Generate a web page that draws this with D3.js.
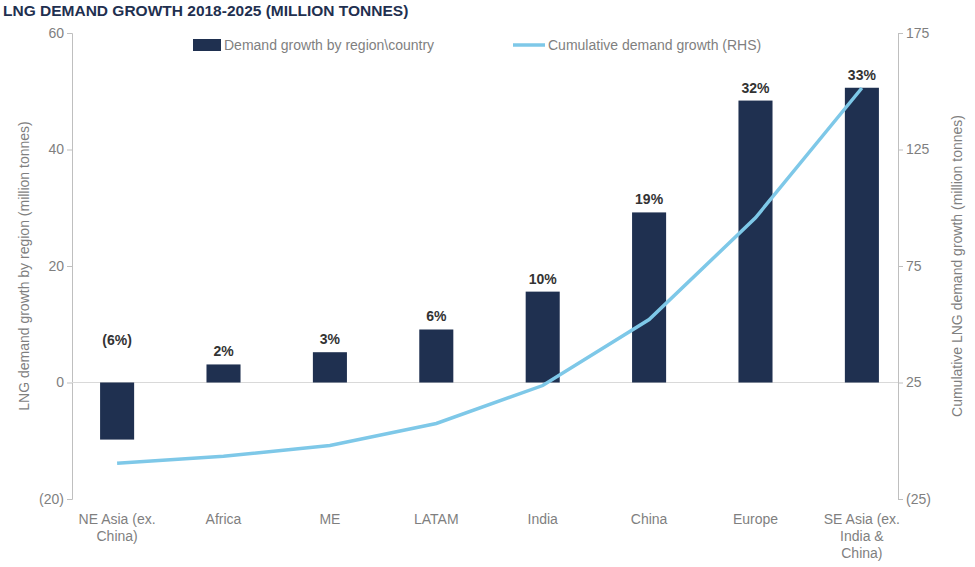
<!DOCTYPE html>
<html><head><meta charset="utf-8">
<script src="https://cdn.jsdelivr.net/npm/d3@7"></script>
<style>body{margin:0;background:#fff;font-family:Arial,"Liberation Sans",sans-serif}</style>
</head><body><svg id="c" width="975" height="567"></svg>
<script>
const categories=["NE Asia (ex.\nChina)","Africa","ME","LATAM","India","China","Europe","SE Asia (ex.\nIndia &\nChina)"];
const growth=[-9.8,3.1,5.2,9.1,15.6,29.2,48.4,50.6];
const cumulative=[-9.7,-6.7,-2,7.4,23.7,52,95.7,151.4];
const shares=["(6%)","2%","3%","6%","10%","19%","32%","33%"];
const leftTicks=[60,40,20,0,-20];
const rightTicks=[175,125,75,25,-25];
const svg=d3.select("#c");
const L=72,R=898,T=33,B=499;
const x=d3.scaleBand().domain(categories).range([82,897]).paddingInner(0.68).paddingOuter(0.17);
const y=d3.scaleLinear().domain([-20,60]).range([B,T]);
const y2=d3.scaleLinear().domain([-25,175]).range([B,T]);
const fmt=v=>v<0?`(${-v})`:`${v}`;
const grey="#7f7f7f";
svg.append("text").attr("x",3).attr("y",16).attr("font-size",15.5).attr("font-weight","bold").attr("fill","#1f3050").text("LNG DEMAND GROWTH 2018-2025 (MILLION TONNES)");
const ga=svg.append("g").attr("transform",`translate(${L},0)`).call(d3.axisLeft(y).tickValues(leftTicks).tickFormat(fmt).tickSize(5));
const gb=svg.append("g").attr("transform",`translate(${R},0)`).call(d3.axisRight(y2).tickValues(rightTicks).tickFormat(fmt).tickSize(5));
[ga,gb].forEach(g=>{g.selectAll("path,line").attr("stroke","#bfbfbf");g.selectAll("text").attr("fill",grey).attr("font-size",14);});
svg.append("line").attr("x1",L).attr("x2",R).attr("y1",y(0)).attr("y2",y(0)).attr("stroke","#d9d9d9");
svg.selectAll(".bar").data(growth).join("rect").attr("fill","#1f3050")
 .attr("x",(d,i)=>x(categories[i])).attr("width",x.bandwidth())
 .attr("y",d=>y(Math.max(0,d))).attr("height",d=>Math.abs(y(d)-y(0)));
svg.selectAll(".lab").data(shares).join("text").attr("text-anchor","middle").attr("font-size",14).attr("font-weight","bold").attr("fill","#333")
 .attr("x",(d,i)=>x(categories[i])+x.bandwidth()/2)
 .attr("y",(d,i)=>growth[i]<0?y(0)-38:y(growth[i])-8).text(d=>d);
svg.append("path").datum(cumulative).attr("fill","none").attr("stroke","#7ec8e8").attr("stroke-width",3.5)
 .attr("d",d3.line().x((d,i)=>x(categories[i])+x.bandwidth()/2).y(d=>y2(d)));
categories.forEach((c,i)=>{
 const t=svg.append("text").attr("text-anchor","middle").attr("font-size",14).attr("fill",grey);
 c.split("\n").forEach((s,j)=>t.append("tspan").attr("x",x(c)+x.bandwidth()/2).attr("y",524+j*17).text(s));
});
svg.append("text").attr("transform",`translate(29,266) rotate(-90)`).attr("text-anchor","middle").attr("font-size",14).attr("fill",grey).text("LNG demand growth by region (million tonnes)");
svg.append("text").attr("transform",`translate(962,266) rotate(-90)`).attr("text-anchor","middle").attr("font-size",14).attr("fill",grey).text("Cumulative LNG demand growth (million tonnes)");
svg.append("rect").attr("x",193).attr("y",39).attr("width",28).attr("height",12).attr("fill","#1f3050");
svg.append("text").attr("x",224).attr("y",50).attr("font-size",14).attr("fill",grey).text("Demand growth by region\\country");
svg.append("line").attr("x1",513).attr("x2",545).attr("y1",45).attr("y2",45).attr("stroke","#7ec8e8").attr("stroke-width",3.5);
svg.append("text").attr("x",548).attr("y",50).attr("font-size",14).attr("fill",grey).text("Cumulative demand growth (RHS)");
</script></body></html>
